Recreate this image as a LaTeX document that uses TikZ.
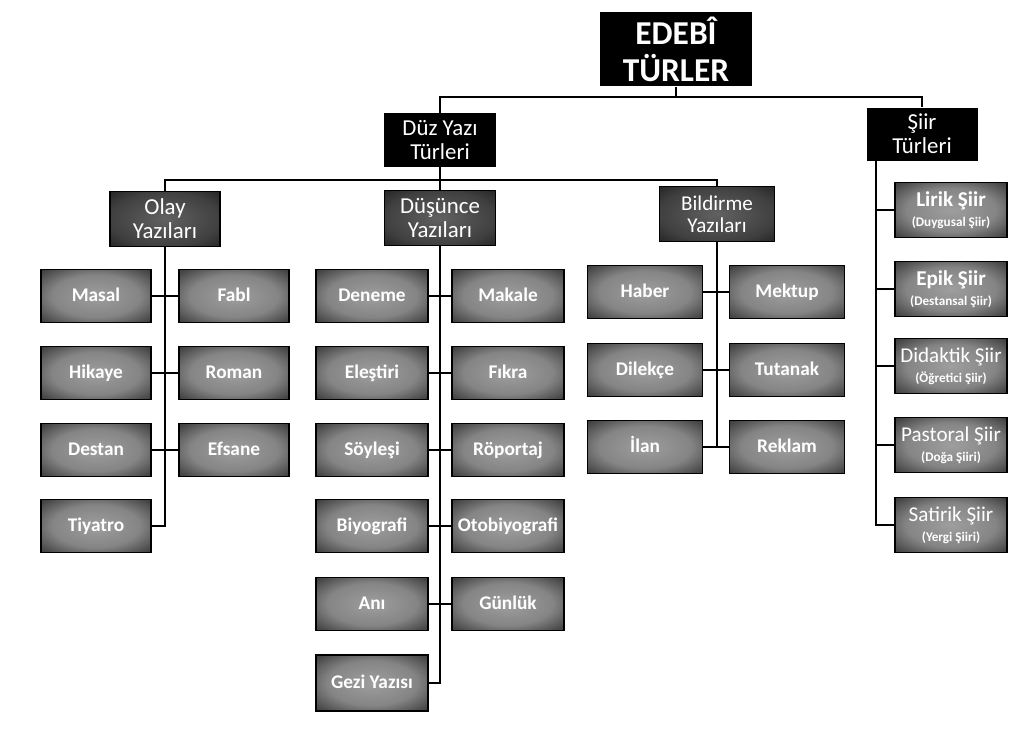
\documentclass[tikz,border=0pt]{standalone}
\usepackage{fontspec}
\setmainfont{Carlito}
\usepackage{tikz}
\usetikzlibrary{positioning}
\pgfdeclareradialshading{leafglow}{\pgfpoint{0bp}{0bp}}{color(0bp)=(black!38); color(20bp)=(black!48); color(38bp)=(black!82); color(50bp)=(black)}
\pgfdeclareradialshading{groupglow}{\pgfpoint{0bp}{0bp}}{color(0bp)=(black!62); color(25bp)=(black!75); color(42bp)=(black!92); color(50bp)=(black)}
\tikzset{
	topbox/.style={fill=black, text=white, align=center, inner sep=0pt},
	groupbox/.style={shading=groupglow, draw=black, line width=0.8pt, text=white, align=center, inner sep=0pt, minimum height=1.1cm, font=\fontsize{13}{13.6}\selectfont},
	glowbox/.style={shading=leafglow, draw=black, line width=0.8pt, text=white, align=center, inner sep=0pt},
	leafbox/.style={glowbox, minimum height=1.06cm, text height=1.55ex, text depth=0.3ex, font=\bfseries\fontsize{11}{12}\selectfont},
	siirbox/.style={glowbox, minimum width=2.24cm, minimum height=1.1cm, font=\fontsize{12}{12.5}\selectfont},
	link/.style={line width=1.5pt}
}
\newcommand{\alt}[1]{\\[-1pt]{\bfseries\fontsize{7.5}{8}\selectfont #1}}

\begin{document}
\begin{tikzpicture}[x=0.02cm, y=-0.02cm]
	%	\draw [help lines] (0,0) grid (1024,731);
	\useasboundingbox (0,0) rectangle (1024,731);
	\node [topbox, minimum width=3.04cm, minimum height=1.5cm, font=\bfseries\fontsize{19}{21}\selectfont] (root) at (676,49) {EDEBÎ\\TÜRLER};
	\node [topbox, minimum width=2.26cm, minimum height=1.08cm, font=\fontsize{13}{13.6}\selectfont] (duz) at (440,140) {Düz Yazı\\Türleri};
	\node [topbox, minimum width=2.22cm, minimum height=1.06cm, font=\fontsize{13}{13.6}\selectfont] (siir) at (922,134) {Şiir\\Türleri};
	\node [groupbox, minimum width=2.2cm] (olay) at (165,219) {Olay\\Yazıları};
	\node [groupbox, minimum width=2.22cm] (dus) at (440,218) {Düşünce\\Yazıları};
	\node [groupbox, minimum width=2.3cm, font=\fontsize{12}{12.5}\selectfont] (bild) at (717,214) {Bildirme\\Yazıları};
	% olay yazilari
	\node [leafbox, minimum width=2.2cm] (mas) at (96,296) {Masal};
	\node [leafbox, minimum width=2.2cm] (fab) at (234,296) {Fabl};
	\node [leafbox, minimum width=2.2cm] (hik) at (96,373) {Hikaye};
	\node [leafbox, minimum width=2.2cm] (rom) at (234,373) {Roman};
	\node [leafbox, minimum width=2.2cm] (des) at (96,450) {Destan};
	\node [leafbox, minimum width=2.2cm] (efs) at (234,450) {Efsane};
	\node [leafbox, minimum width=2.2cm] (tiy) at (96,526) {Tiyatro};
	% dusunce yazilari
	\node [leafbox, minimum width=2.24cm] (den) at (372,296) {Deneme};
	\node [leafbox, minimum width=2.24cm] (mak) at (508,296) {Makale};
	\node [leafbox, minimum width=2.24cm] (ele) at (372,373) {Eleştiri};
	\node [leafbox, minimum width=2.24cm] (fik) at (508,373) {Fıkra};
	\node [leafbox, minimum width=2.24cm] (soy) at (372,450) {Söyleşi};
	\node [leafbox, minimum width=2.24cm] (rop) at (508,450) {Röportaj};
	\node [leafbox, minimum width=2.24cm] (biy) at (372,526) {Biyografi};
	\node [leafbox, minimum width=2.24cm] (oto) at (508,526) {Otobiyografi};
	\node [leafbox, minimum width=2.24cm] (ani) at (372,604) {Anı};
	\node [leafbox, minimum width=2.24cm] (gun) at (508,604) {Günlük};
	\node [leafbox, minimum width=2.24cm, minimum height=1.12cm] (gez) at (372,683) {Gezi Yazısı};
	% bildirme yazilari
	\node [leafbox, minimum width=2.3cm] (hab) at (645,292) {Haber};
	\node [leafbox, minimum width=2.3cm] (mek) at (787,292) {Mektup};
	\node [leafbox, minimum width=2.3cm] (dil) at (645,370) {Dilekçe};
	\node [leafbox, minimum width=2.3cm] (tut) at (787,370) {Tutanak};
	\node [leafbox, minimum width=2.3cm] (ila) at (645,447) {İlan};
	\node [leafbox, minimum width=2.3cm] (rek) at (787,447) {Reklam};
	% siir turleri
	\node [siirbox] (lir) at (951,210) {\bfseries Lirik Şiir\alt{(Duygusal Şiir)}};
	\node [siirbox] (epi) at (951,289) {\bfseries Epik Şiir\alt{(Destansal Şiir)}};
	\node [siirbox] (did) at (951,366) {Didaktik Şiir\alt{(Öğretici Şiir)}};
	\node [siirbox] (pas) at (951,445) {Pastoral Şiir\alt{(Doğa Şiiri)}};
	\node [siirbox] (sat) at (951,525) {Satirik Şiir\alt{(Yergi Şiiri)}};
	% baglantilar
	\coordinate (rj) at (676,97);
	\coordinate (dj) at (440,180);
	\coordinate (st) at ([xshift=-0.92cm]siir.south);
	\draw [link] (root) -- (rj);
	\draw [link] (duz.north) |- (rj) -| (siir.north);
	\draw [link] (duz) -- (dus);
	\draw [link] (olay.north) |- (dj) -| (bild.north);
	\draw [link] (olay) |- (tiy);
	\draw [link] (dus) |- (gez);
	\draw [link] (bild) -- (bild |- ila);
	\foreach \a/\b in {mas/fab, hik/rom, des/efs, den/mak, ele/fik, soy/rop, biy/oto, ani/gun, hab/mek, dil/tut, ila/rek}
		\draw [link] (\a) -- (\b);
	\draw [link] (st) |- (sat);
	\foreach \n in {lir, epi, did, pas}
		\draw [link] (\n) -- (\n -| st);
\end{tikzpicture}
\end{document}
